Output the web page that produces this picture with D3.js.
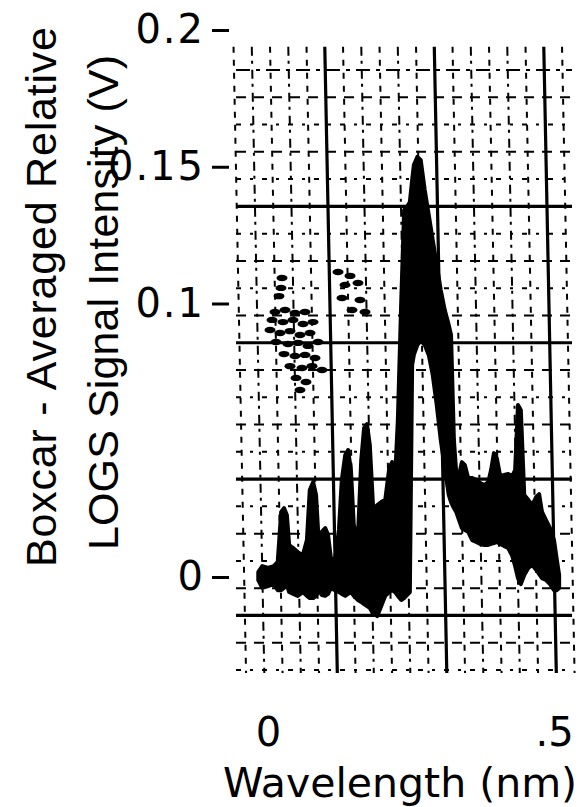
<!DOCTYPE html>
<html>
<head>
<meta charset="utf-8">
<script src="https://cdn.jsdelivr.net/npm/d3@7"></script>
<style>
  body { margin: 0; background: #fff; }
  svg { display: block; }
</style>
</head>
<body>
<svg id="svg" width="582" height="807"></svg>
<script>
// ---- data ----
const wavelength = [-0.017,-0.010,0.000,0.010,0.017,0.023,0.028,0.033,0.037,0.044,0.052,0.061,0.068,0.073,0.079,0.084,0.089,0.094,0.100,0.105,
  0.110,0.117,0.124,0.129,0.135,0.140,0.145,0.150,0.157,0.163,0.168,0.173,0.178,0.184,0.191,0.198,0.205,0.212,0.217,0.222,
  0.227,0.233,0.238,0.245,0.248,0.252,0.255,0.261,0.267,0.274,0.281,0.288,0.295,0.302,0.309,0.316,0.320,0.325,0.329,0.334,
  0.339,0.344,0.350,0.357,0.364,0.371,0.378,0.385,0.390,0.395,0.400,0.406,0.413,0.420,0.427,0.432,0.437,0.442,0.448,0.455,
  0.462,0.469,0.474,0.479,0.486,0.493,0.500,0.505,0.509];

// top edge of the recorded trace (V)
const upper = [0.0018,0.0040,0.0033,0.0040,0.0055,0.0238,0.0252,0.0227,0.0117,0.0106,0.0091,0.0080,0.0135,0.0318,0.0347,0.0300,0.0117,0.0165,0.0179,0.0154,
  0.0069,0.0062,0.0172,0.0355,0.0446,0.0464,0.0391,0.0190,0.0135,0.0428,0.0545,0.0559,0.0483,0.0245,0.0263,0.0274,0.0282,0.0399,0.0420,0.0355,
  0.0574,0.1013,0.1342,0.1360,0.1371,0.1452,0.1506,0.1536,0.1525,0.1415,0.1324,0.1232,0.1141,0.1049,0.0976,0.0921,0.0885,0.0501,0.0384,0.0373,
  0.0420,0.0410,0.0362,0.0362,0.0355,0.0344,0.0336,0.0347,0.0391,0.0453,0.0435,0.0369,0.0373,0.0377,0.0369,0.0391,0.0629,0.0611,0.0300,0.0282,
  0.0263,0.0293,0.0303,0.0238,0.0208,0.0179,0.0135,0.0062,0.0007];

// bottom edge of the recorded trace (V)
const lower = [-0.0011,-0.0040,-0.0033,-0.0026,-0.0048,-0.0048,-0.0040,-0.0029,-0.0055,-0.0062,-0.0069,-0.0055,-0.0069,-0.0077,-0.0077,-0.0069,-0.0048,-0.0066,-0.0069,-0.0062,
  -0.0040,-0.0048,-0.0055,-0.0062,-0.0069,-0.0062,-0.0055,-0.0069,-0.0084,-0.0091,-0.0099,-0.0106,-0.0113,-0.0135,-0.0143,-0.0106,-0.0069,-0.0055,-0.0048,-0.0055,
  -0.0069,-0.0084,-0.0077,-0.0062,-0.0055,0.0775,0.0812,0.0848,0.0867,0.0848,0.0812,0.0739,0.0629,0.0501,0.0399,0.0300,0.0274,0.0252,0.0238,0.0208,
  0.0179,0.0172,0.0165,0.0135,0.0128,0.0121,0.0117,0.0117,0.0121,0.0124,0.0128,0.0121,0.0113,0.0106,0.0077,0.0040,-0.0004,-0.0026,0.0007,0.0033,
  0.0044,0.0026,0.0011,-0.0004,-0.0011,-0.0026,-0.0048,-0.0048,-0.0040];

// stray specks on the photograph [nm, V]
const speckles = [[0.0245,0.1093],[0.0227,0.1057],[0.0192,0.1027],[0.0122,0.0969],[0.0297,0.0976],[0.0472,0.0965],[0.0647,0.0969],
  [0.0070,0.0940],[0.0262,0.0932],[0.0437,0.0940],[0.0612,0.0925],[0.0787,0.0932],[0.0035,0.0903],[0.0210,0.0892],[0.0385,0.0899],
  [0.0559,0.0885],[0.0734,0.0892],[0.0140,0.0859],[0.0350,0.0852],[0.0524,0.0856],[0.0699,0.0845],[0.0874,0.0859],[0.0280,0.0815],
  [0.0472,0.0808],[0.0647,0.0812],[0.0822,0.0801],[0.0385,0.0771],[0.0594,0.0764],[0.0769,0.0771],[0.0944,0.0757],[0.0490,0.0728],
  [0.0664,0.0713],[0.0559,0.0684],[0.1224,0.1115],[0.1434,0.1101],[0.1346,0.1068],[0.1573,0.1075],[0.1294,0.1020],[0.1608,0.1013],
  [0.1696,0.0969],[0.1469,0.0976]];

const yTicks = [0, 0.1, 0.15, 0.2];
const yTickLabels = ['0', '0.1', '0.15', '0.2'];
const xTicks = [0, 0.5];
const xTickLabels = ['0', '.5'];

// graticule of the scope screen (divisions)
const gridCols = 18, gridRows = 22;
const majorCols = [5, 11, 17];
const majorRows = [5, 10, 15, 20];

const svg = d3.select('#svg');

const x = d3.scaleLinear().domain([0, 0.5]).range([268, 554]);
const y = d3.scaleLinear().domain([0, 0.2]).range([577, 30]);
const gx = d3.scaleLinear().domain([0, gridCols]).range([240, 568.5]);
const gy = d3.scaleLinear().domain([0, gridRows]).range([70, 670]);
const tilt = 0.02; // photo is a little rotated

//------ graticule ------
const grid = svg.append('g').attr('stroke', '#000').attr('fill', 'none');

d3.range(gridCols + 1).forEach(k => {
  const major = majorCols.includes(k);
  const yTop = gy(-0.85), yBot = gy(gridRows) + 3;
  grid.append('line')
    .attr('x1', gx(k) + (yTop - 370) * tilt)
    .attr('x2', gx(k) + (yBot - 370) * tilt)
    .attr('y1', yTop)
    .attr('y2', yBot)
    .attr('stroke-width', major ? 3.2 : 2)
    .attr('stroke-dasharray', major ? null : (k % 2 ? '9,5,3,6' : '6,7'));
});

d3.range(gridRows + 1).forEach(k => {
  const major = majorRows.includes(k);
  grid.append('line')
    .attr('x1', 236)
    .attr('x2', 572)
    .attr('y1', gy(k))
    .attr('y2', gy(k))
    .attr('stroke-width', major ? 3.2 : 2)
    .attr('stroke-dasharray', major ? null : (k === 0 ? '14,6,4,6' : (k % 2 ? '10,8' : '5,9,3,9')));
});

//------ specks ------
svg.append('g')
  .selectAll('ellipse')
  .data(speckles)
  .join('ellipse')
  .attr('cx', d => x(d[0]))
  .attr('cy', d => y(d[1]))
  .attr('rx', 5.5)
  .attr('ry', 3.2)
  .attr('fill', '#000');

//------ trace ------
const band = d3.area()
  .x((d, i) => x(wavelength[i]))
  .y0((d, i) => y(lower[i]))
  .y1((d, i) => y(upper[i]));

svg.append('path')
  .datum(wavelength)
  .attr('d', band)
  .attr('fill', '#000')
  .attr('stroke', '#000')
  .attr('stroke-width', 4)
  .attr('stroke-linejoin', 'round');

//------ axes ------
const yAxis = d3.axisLeft(y)
  .tickValues(yTicks)
  .tickFormat((d, i) => yTickLabels[i])
  .tickSize(17)
  .tickPadding(7);

const ya = svg.append('g')
  .attr('transform', 'translate(229,0)')
  .call(yAxis);
ya.select('.domain').remove();
ya.selectAll('line').attr('stroke', '#000').attr('stroke-width', 3);
ya.selectAll('text')
  .attr('font-family', 'DejaVu Sans')
  .attr('font-size', 40)
  .attr('letter-spacing', 2)
  .attr('fill', '#000');

const xAxis = d3.axisBottom(x)
  .tickValues(xTicks)
  .tickFormat((d, i) => xTickLabels[i])
  .tickSize(0)
  .tickPadding(0);

const xa = svg.append('g')
  .attr('transform', 'translate(0,718)')
  .call(xAxis);
xa.select('.domain').remove();
xa.selectAll('text')
  .attr('font-family', 'DejaVu Sans')
  .attr('font-size', 40)
  .attr('fill', '#000');

svg.append('text')
  .attr('x', 400)
  .attr('y', 797)
  .attr('text-anchor', 'middle')
  .attr('font-family', 'DejaVu Sans')
  .attr('font-size', 41)
  .text('Wavelength (nm)');

const yTitle = svg.append('g')
  .attr('font-family', 'Liberation Sans, Arial, sans-serif')
  .attr('font-size', 43);
yTitle.append('text')
  .attr('transform', 'translate(56,567) rotate(-90)')
  .attr('textLength', 540)
  .attr('lengthAdjust', 'spacing')
  .text('Boxcar - Averaged Relative');
yTitle.append('text')
  .attr('transform', 'translate(118,550) rotate(-90)')
  .attr('textLength', 495)
  .attr('lengthAdjust', 'spacing')
  .text('LOGS Signal Intensity (V)');
</script>
</body>
</html>
